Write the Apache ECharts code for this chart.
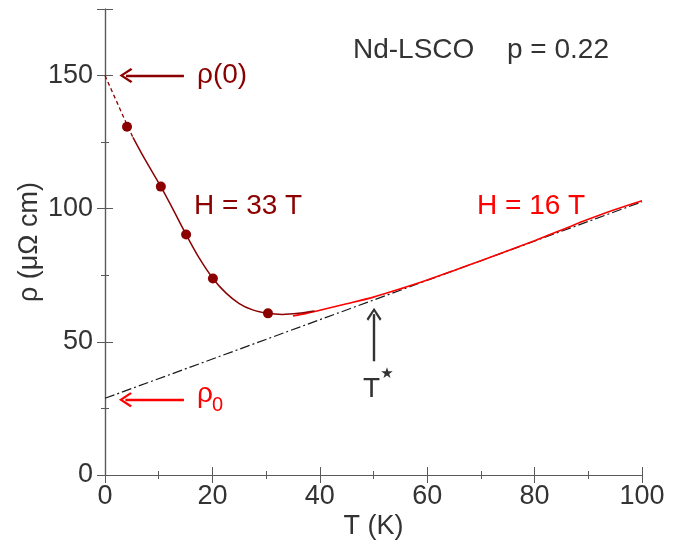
<!DOCTYPE html>
<html>
<head>
<meta charset="utf-8">
<script src="https://cdn.jsdelivr.net/npm/echarts@6/dist/echarts.min.js"></script>
<style>html,body{margin:0;padding:0;background:#fff}#c{width:684px;height:543px}</style>
</head>
<body>
<div id="c"></div>
<script>
// ---- data ----
const xTicks = [0, 20, 40, 60, 80, 100];
const yTicks = [0, 50, 100, 150];
// H = 33 T fit (solid), with dashed extrapolation to T = 0
const rho33Extrap = [[0, 150], [2, 141], [4.1, 131.5], [5.2, 126.8]];
const rho33Curve = [[5.2, 126.8], [7.5, 118.3], [10.4, 108.3], [12.5, 100.4], [15.1, 90.3], [17.5, 81.6], [20.1, 73.8], [22.5, 68.4], [25, 64.4], [27.5, 62.0], [30.35, 60.7], [33, 60.3], [36, 60.7], [39, 61.6]];
const rho33Points = [[4.1, 130.8], [10.4, 108.3], [15.1, 90.3], [20.1, 73.8], [30.35, 60.7]];
// H = 16 T data
const rho16Curve = [[35, 59.7], [37.5, 60.7], [40, 61.9], [45, 64.3], [50, 66.8], [55, 69.9], [60, 73.2], [65, 76.8], [70, 80.5], [75, 84.2], [80, 88.0], [85, 92.0], [90, 96.0], [95, 99.7], [100, 103.0]];
// linear fit  rho = rho0 + A T
const linearFit = [[0, 28.8], [100, 102.6]];
// annotation arrows (data coordinates)
const arrowRho0Top = [[14.7, 150], [3.9, 150]];
const arrowRho0 = [[14.7, 28.3], [3.8, 28.3]];
const arrowTstar = [[50.1, 42.7], [50.1, 60.4]];

const DARK = '#8b0000', RED = '#ff0000', GRAY = '#333333', AX = '#5a5a5a';
const FONT = '"Liberation Sans", Arial, Helvetica, sans-serif';
const chevron = 'path://M0,0 L7,10 L5.4,11.4 L0,3.4 L-5.4,11.4 L-7,10 Z';

const chart = echarts.init(document.getElementById('c'), null, {renderer: 'canvas'});

function arrowMark(pts, color) {
  return {
    silent: true,
    symbol: ['none', chevron],
    symbolSize: [15, 13],
    label: {show: false},
    lineStyle: {color: color, width: 2.4, type: 'solid'},
    emphasis: {disabled: true},
    data: [[{coord: pts[0]}, {coord: pts[1]}]]
  };
}

// tick-only box axes (grid 0)
function tickAxis(pos, max, interval) {
  return {
    type: 'value', gridIndex: 0, min: 0, max: max, interval: interval, position: pos,
    axisLine: {show: true, lineStyle: {color: AX, width: 1.2}},
    axisTick: {show: true, inside: true, length: 8, lineStyle: {color: AX}},
    minorTick: {show: true, splitNumber: 2, length: 4, lineStyle: {color: AX}},
    axisLabel: {show: false},
    splitLine: {show: false}
  };
}

const gridBox = {left: 105, right: 42, top: 9, bottom: 68, containLabel: false, outerBoundsMode: 'none'};

chart.setOption({
  animation: false,
  backgroundColor: '#fff',
  grid: [Object.assign({}, gridBox), Object.assign({}, gridBox)],
  xAxis: [
    tickAxis('bottom', 100, 20),
    tickAxis('top', 100, 20),
    {
      type: 'value', gridIndex: 1, min: 0, max: 100, interval: 20, position: 'bottom',
      name: 'T (K)', nameLocation: 'middle', nameGap: 38, nameMoveOverlap: false,
      nameTextStyle: {fontSize: 27, color: GRAY, fontFamily: FONT},
      axisLine: {show: false}, axisTick: {show: false}, splitLine: {show: false},
      axisLabel: {fontSize: 27, color: GRAY, fontFamily: FONT, margin: 8,
        formatter: v => xTicks.includes(v) ? String(v) : ''}
    }
  ],
  yAxis: [
    tickAxis('left', 175, 50),
    tickAxis('right', 175, 50),
    {
      type: 'value', gridIndex: 1, min: 0, max: 175, interval: 50, position: 'left',
      name: 'ρ (μΩ cm)', nameLocation: 'middle', nameGap: 62, nameMoveOverlap: false,
      nameTextStyle: {fontSize: 27, color: GRAY, fontFamily: FONT},
      axisLine: {show: false}, axisTick: {show: false}, splitLine: {show: false},
      axisLabel: {fontSize: 27, color: GRAY, fontFamily: FONT, margin: 12,
        formatter: v => yTicks.includes(v) ? String(v) : ''}
    }
  ],
  series: [
    {
      name: 'linear fit', type: 'line', xAxisIndex: 0, yAxisIndex: 0, data: linearFit, showSymbol: false, silent: true,
      lineStyle: {color: '#1a1a1a', width: 1.2, type: [10, 3, 2, 3]},
      markLine: arrowMark(arrowTstar, GRAY)
    },
    {
      name: 'H = 16 T', type: 'line', xAxisIndex: 0, yAxisIndex: 0, data: rho16Curve, showSymbol: false, smooth: 0.3, silent: true,
      lineStyle: {color: RED, width: 1.6},
      markLine: arrowMark(arrowRho0, RED)
    },
    {
      name: 'H = 33 T extrapolation', type: 'line', xAxisIndex: 0, yAxisIndex: 0, data: rho33Extrap, showSymbol: false, silent: true,
      lineStyle: {color: DARK, width: 1.3, type: [4, 3]},
      markLine: arrowMark(arrowRho0Top, DARK)
    },
    {
      name: 'H = 33 T', type: 'line', xAxisIndex: 0, yAxisIndex: 0, data: rho33Curve, showSymbol: false, smooth: 0.3, silent: true,
      lineStyle: {color: DARK, width: 1.5}
    },
    {
      name: 'H = 33 T points', type: 'scatter', xAxisIndex: 0, yAxisIndex: 0, data: rho33Points, symbol: 'circle', symbolSize: 10,
      itemStyle: {color: DARK, opacity: 1}, silent: true
    }
  ],
  graphic: [
    {type: 'text', x: 353, y: 50, style: {text: 'Nd-LSCO', font: '28px ' + FONT, fill: GRAY, align: 'left', verticalAlign: 'middle'}},
    {type: 'text', x: 507, y: 50, style: {text: 'p = 0.22', font: '28px ' + FONT, fill: GRAY, align: 'left', verticalAlign: 'middle'}},
    {type: 'text', x: 197, y: 75, style: {text: 'ρ(0)', font: '28px ' + FONT, fill: DARK, align: 'left', verticalAlign: 'middle'}},
    {type: 'text', x: 194, y: 206, style: {text: 'H = 33 T', font: '28px ' + FONT, fill: DARK, align: 'left', verticalAlign: 'middle'}},
    {type: 'text', x: 477, y: 206, style: {text: 'H = 16 T', font: '28px ' + FONT, fill: RED, align: 'left', verticalAlign: 'middle'}},
    {type: 'text', x: 197, y: 394, style: {text: 'ρ', font: '28px ' + FONT, fill: RED, align: 'left', verticalAlign: 'middle'}},
    {type: 'text', x: 212, y: 405, style: {text: '0', font: '20px ' + FONT, fill: RED, align: 'left', verticalAlign: 'middle'}},
    {type: 'text', x: 371.5, y: 389, style: {text: 'T', font: '28px ' + FONT, fill: GRAY, align: 'center', verticalAlign: 'middle'}},
    {type: 'text', x: 387, y: 374, style: {text: '★', font: '15px "DejaVu Sans"', fill: GRAY, align: 'center', verticalAlign: 'middle'}}
  ]
});
</script>
</body>
</html>
